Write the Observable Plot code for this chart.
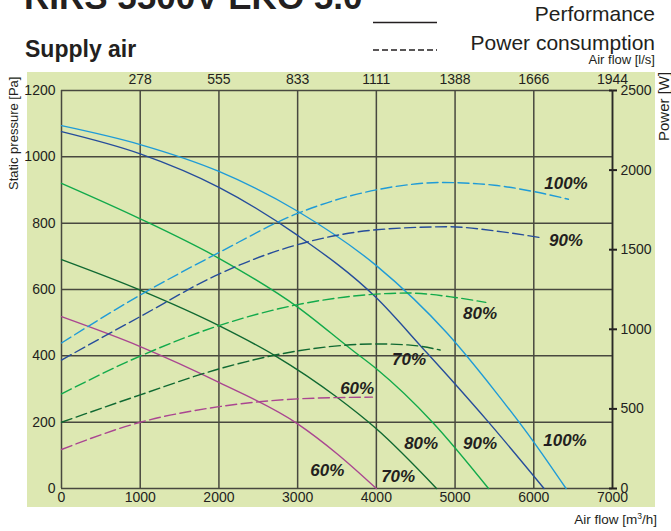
<!DOCTYPE html>
<html>
<head>
<meta charset="utf-8">
<script src="https://cdn.jsdelivr.net/npm/d3@7"></script>
<script src="https://cdn.jsdelivr.net/npm/@observablehq/plot@0.6"></script>
<style>
  body { margin: 0; background: #ffffff; font-family: "Liberation Sans", Arial, sans-serif; }
  #wrap { position: relative; width: 671px; height: 531px; overflow: hidden; }
  #bg { position: absolute; left: 27px; top: 72px; width: 628px; height: 435px; background: #dde8b2; }
  #chart { position: absolute; left: 0; top: 0; }
  .t { position: absolute; white-space: nowrap; color: #231f20; line-height: 1; }
  .rot { transform-origin: 0 0; transform: rotate(-90deg); }
  #legend { position: absolute; left: 0; top: 0; }
</style>
</head>
<body>
<div id="wrap">
  <div id="bg"></div>
  <div id="chart"></div>
  <div class="t" style="left:24px; top:-20.6px; font-size:35px; font-weight:bold;">RIRS 5500V EKO 5.0</div>
  <div class="t" style="left:25px; top:37.5px; font-size:23px; font-weight:bold;">Supply air</div>
  <div class="t" style="right:16px; top:3.2px; font-size:21px;">Performance</div>
  <div class="t" style="right:16px; top:32.2px; font-size:21px;">Power consumption</div>
  <div class="t" style="right:16px; top:53px; font-size:13px;">Air flow [l/s]</div>
  <div class="t" style="right:14px; top:513px; font-size:13.5px;">Air flow [m<sup style="font-size:8.5px; vertical-align:5px; line-height:0;">3</sup>/h]</div>
  <div class="t rot" style="left:7.3px; top:190px; font-size:13px;">Static pressure [Pa]</div>
  <div class="t rot" style="left:656px; top:141px; font-size:15px;">Power [W]</div>
  <svg id="legend" width="671" height="60">
    <line x1="373" x2="437" y1="22.5" y2="22.5" stroke="#231f20" stroke-width="1.5"></line>
    <line x1="373" x2="437" y1="50" y2="50" stroke="#231f20" stroke-width="1.5" stroke-dasharray="6,3"></line>
  </svg>
</div>
<script>
// ---- axes ----
const flowTicks = [0, 1000, 2000, 3000, 4000, 5000, 6000, 7000];          // m3/h
const flowLpsLabels = ["278", "555", "833", "1111", "1388", "1666", "1944"]; // l/s at 1000..7000 m3/h
const pressureTicks = [0, 200, 400, 600, 800, 1000, 1200];                  // Pa
const powerTicks = [0, 500, 1000, 1500, 2000, 2500];                         // W
const powerMax = 2500, pressureMax = 1200;

// ---- series: static pressure [Pa] vs air flow [m3/h] ----
const perf100 = [[0,1094],[1000,1037],[2000,956],[3000,836],[4000,672],[4900,468],[5500,296],[6000,140],[6410,0]];
const perf90  = [[0,1076],[1000,1009],[2000,908],[3000,763],[4000,575],[4600,420],[5000,315],[5425,200],[6130,0]];
const perf80  = [[0,920],[1000,813],[2000,694],[3000,547],[3700,416],[4000,361],[4713,200],[5425,0]];
const perf70  = [[0,690],[1000,598],[2000,491],[2716,400],[3500,275],[4000,180],[4765,0]];
const perf60  = [[0,518],[1000,428],[2000,320],[3000,195],[3500,105],[4000,0]];

// ---- series: power consumption [W] vs air flow [m3/h] ----
const power100 = [[0,914],[1000,1215],[2000,1482],[3000,1728],[4000,1876],[4850,1922],[5500,1905],[6000,1865],[6440,1817]];
const power90  = [[0,807],[1000,1080],[2000,1347],[3000,1532],[4000,1625],[4900,1644],[5600,1612],[6120,1573]];
const power80  = [[0,594],[1000,832],[2000,1023],[3000,1155],[4000,1221],[4400,1228],[5000,1200],[5390,1169]];
const power70  = [[0,416],[1000,588],[2000,751],[3000,864],[4000,908],[4400,902],[4810,870]];
const power60  = [[0,245],[1000,416],[2000,514],[3000,563],[3500,571],[3950,574]];

const speeds = ["100%", "90%", "80%", "70%", "60%"];
const colors = ["#1f9bd7", "#264d9b", "#12aa4b", "#106932", "#aa4691"];
const perfSeries = [perf100, perf90, perf80, perf70, perf60];
const powerSeries = [power100, power90, power80, power70, power60];

// label anchor points (m3/h, Pa)
const perfLabelX = [6396, 5317, 4569, 4277, 3376];
const perfLabelY = [145, 136, 136, 36, 54];
const powerLabelX = [6409, 6409, 5317, 4416, 3756];
const powerLabelY = [919, 748, 528, 389, 301];

const k = pressureMax / powerMax; // W -> Pa position on shared y scale

const gridColor = "#48483f";
const textColor = "#231f20";
const fmt = d3.format("d");

const marks = [
  Plot.ruleX(flowTicks, {stroke: gridColor, strokeWidth: 1.5}),
  Plot.ruleY(pressureTicks, {stroke: gridColor, strokeWidth: 1.5}),
  Plot.axisX({anchor: "bottom", ticks: flowTicks, tickSize: 0, tickPadding: 4, label: null, fontSize: 14, fill: textColor, tickFormat: fmt}),
  Plot.axisX({anchor: "top", ticks: flowTicks.slice(1), tickSize: 0, tickPadding: 7, label: null, fontSize: 14, fill: textColor,
    tickFormat: (d) => flowLpsLabels[flowTicks.indexOf(d) - 1]}),
  Plot.axisY({anchor: "left", ticks: pressureTicks, tickSize: 0, tickPadding: 6, label: null, fontSize: 14, fill: textColor, tickFormat: fmt}),
  Plot.axisY({anchor: "right", ticks: powerTicks.map((w) => w * k), tickSize: 8, tickPadding: 4, dx: -4, label: null,
    fontSize: 14, fill: textColor, stroke: textColor, strokeWidth: 2,
    tickFormat: (d) => String(Math.round(d / k))}),
  Plot.ruleX([7000], {stroke: "#2a2a26", strokeWidth: 1.6})
];

perfSeries.forEach((s, i) => {
  marks.push(Plot.line(s, {x: (d) => d[0], y: (d) => d[1], stroke: colors[i], strokeWidth: 1.4, curve: "monotone-x"}));
});
powerSeries.forEach((s, i) => {
  marks.push(Plot.line(s, {x: (d) => d[0], y: (d) => d[1] * k, stroke: colors[i], strokeWidth: 1.4, curve: "monotone-x", strokeDasharray: "11,4.5"}));
});

marks.push(Plot.text(speeds, {x: (d, i) => perfLabelX[i], y: (d, i) => perfLabelY[i], text: (d) => d,
  fontSize: 17, fontWeight: "bold", fontStyle: "italic", fill: textColor}));
marks.push(Plot.text(speeds, {x: (d, i) => powerLabelX[i], y: (d, i) => powerLabelY[i], text: (d) => d,
  fontSize: 17, fontWeight: "bold", fontStyle: "italic", fill: textColor}));

const chart = Plot.plot({
  width: 671,
  height: 531,
  marginLeft: 61,
  marginRight: 59,
  marginTop: 90,
  marginBottom: 43,
  style: {background: "transparent", fontFamily: "Liberation Sans, Arial, sans-serif", color: textColor, overflow: "visible"},
  x: {domain: [0, 7000]},
  y: {domain: [0, 1200]},
  marks
});
document.getElementById("chart").appendChild(chart);
</script>
</body>
</html>
